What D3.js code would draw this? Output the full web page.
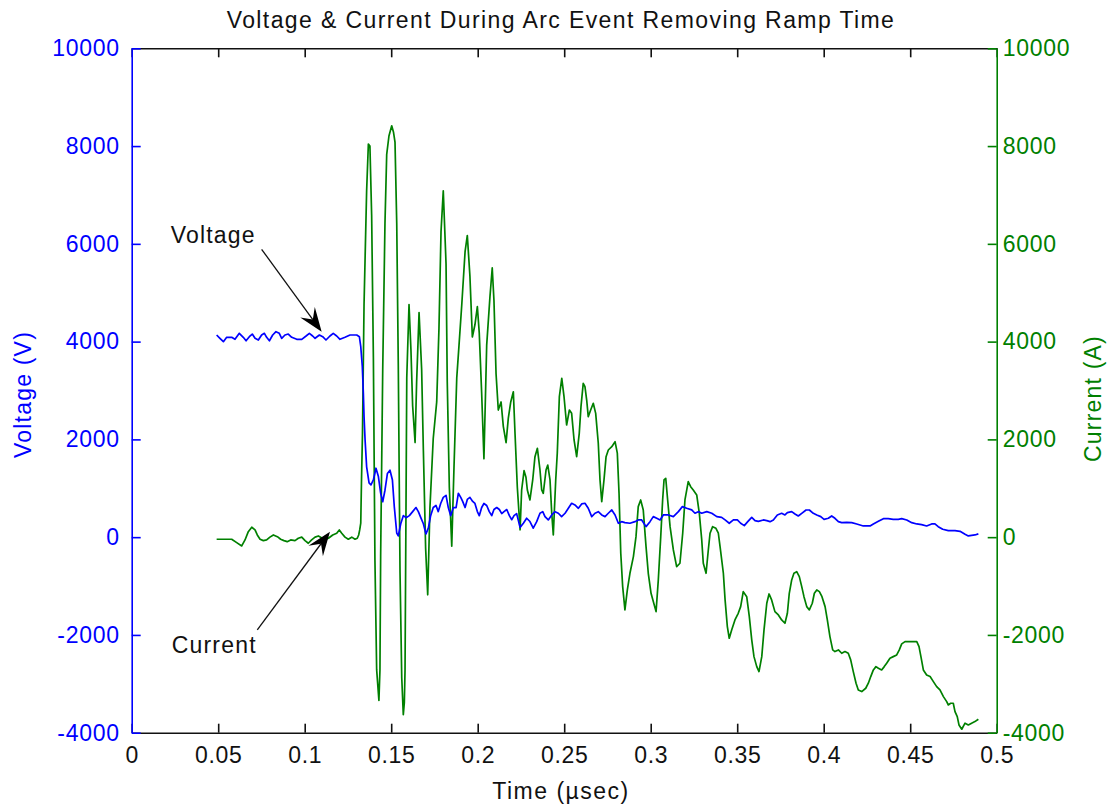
<!DOCTYPE html>
<html>
<head>
<meta charset="utf-8">
<script src="https://cdn.jsdelivr.net/npm/d3@7/dist/d3.min.js"></script>
<style>
  html, body { margin: 0; padding: 0; background: #fff; }
  svg { display: block; }
  text { font-family: "Liberation Sans", Arial, sans-serif; }
</style>
</head>
<body>
<svg id="chart" width="1113" height="808"></svg>
<script>
// Time axis (µsec) and tick labels
const timeTicks = [0, 0.05, 0.1, 0.15, 0.2, 0.25, 0.3, 0.35, 0.4, 0.45, 0.5];
const valueTicks = [-4000, -2000, 0, 2000, 4000, 6000, 8000, 10000];

// Voltage trace (V)
const voltageTime = [
  0.0491, 0.0510, 0.0530, 0.0549, 0.0578, 0.0597, 0.0622, 0.0645, 0.0661, 0.0680,
  0.0697, 0.0713, 0.0732, 0.0751, 0.0767, 0.0780, 0.0796, 0.0815, 0.0834, 0.0853,
  0.0867, 0.0886, 0.0905, 0.0925, 0.0954, 0.0983, 0.1008, 0.1027, 0.1046, 0.1060,
  0.1085, 0.1104, 0.1123, 0.1146, 0.1165, 0.1185, 0.1204, 0.1233, 0.1262, 0.1301,
  0.1316, 0.1324, 0.1333, 0.1339, 0.1343, 0.1349, 0.1358, 0.1372, 0.1383, 0.1397,
  0.1412, 0.1426, 0.1439, 0.1451, 0.1464, 0.1478, 0.1493, 0.1507, 0.1518, 0.1532,
  0.1541, 0.1555, 0.1570, 0.1586, 0.1605, 0.1624, 0.1643, 0.1657, 0.1671, 0.1686,
  0.1701, 0.1715, 0.1728, 0.1743, 0.1759, 0.1772, 0.1786, 0.1801, 0.1817, 0.1830,
  0.1844, 0.1859, 0.1875, 0.1888, 0.1902, 0.1913, 0.1927, 0.1940, 0.1955, 0.1971,
  0.1984, 0.1998, 0.2009, 0.2023, 0.2036, 0.2052, 0.2067, 0.2081, 0.2094, 0.2110,
  0.2125, 0.2139, 0.2152, 0.2168, 0.2183, 0.2197, 0.2210, 0.2225, 0.2245, 0.2264,
  0.2283, 0.2302, 0.2321, 0.2341, 0.2360, 0.2376, 0.2389, 0.2408, 0.2428, 0.2447,
  0.2466, 0.2485, 0.2505, 0.2524, 0.2543, 0.2562, 0.2582, 0.2601, 0.2620, 0.2639,
  0.2659, 0.2678, 0.2697, 0.2717, 0.2736, 0.2755, 0.2775, 0.2794, 0.2813, 0.2832,
  0.2851, 0.2880, 0.2909, 0.2928, 0.2948, 0.2973, 0.2996, 0.3015, 0.3035, 0.3054,
  0.3073, 0.3102, 0.3131, 0.3160, 0.3183, 0.3208, 0.3237, 0.3256, 0.3275, 0.3295,
  0.3324, 0.3353, 0.3382, 0.3410, 0.3430, 0.3454, 0.3478, 0.3501, 0.3520, 0.3541,
  0.3561, 0.3584, 0.3603, 0.3622, 0.3651, 0.3671, 0.3690, 0.3709, 0.3732, 0.3757,
  0.3776, 0.3790, 0.3815, 0.3834, 0.3853, 0.3873, 0.3898, 0.3917, 0.3940, 0.3960,
  0.3983, 0.4002, 0.4027, 0.4046, 0.4065, 0.4085, 0.4104, 0.4133, 0.4162, 0.4191,
  0.4229, 0.4268, 0.4287, 0.4316, 0.4345, 0.4373, 0.4402, 0.4431, 0.4451, 0.4480,
  0.4509, 0.4538, 0.4566, 0.4595, 0.4624, 0.4643, 0.4662, 0.4688, 0.4720, 0.4759,
  0.4788, 0.4817, 0.4836, 0.4855, 0.4874, 0.4894
];
const voltageValues = [
  4135, 4068, 3998, 4088, 4088, 4047, 4170, 4088, 4018, 4101,
  4155, 4068, 4033, 4135, 4170, 4088, 4018, 4135, 4203, 4170,
  4068, 4135, 4155, 4088, 4047, 4047, 4115, 4170, 4115, 4068,
  4135, 4101, 4033, 4115, 4170, 4115, 4047, 4088, 4135, 4135,
  4101, 3900, 3490, 2950, 2470, 1990, 1440, 1110, 1070, 1170,
  1410, 1240, 900, 725, 960, 1300, 1370, 1170, 620, 85,
  25, 274, 440, 399, 440, 523, 606, 523, 399, 274,
  66, 191, 440, 606, 648, 523, 689, 814, 855, 606,
  440, 606, 606, 897, 814, 731, 606, 772, 814, 731,
  689, 523, 440, 606, 689, 648, 523, 440, 565, 606,
  565, 482, 523, 565, 440, 357, 440, 482, 200, 284,
  387, 320, 184, 317, 489, 522, 420, 352, 454, 522,
  489, 420, 489, 591, 693, 659, 591, 680, 693, 591,
  420, 489, 522, 454, 420, 489, 557, 454, 284, 317,
  297, 284, 317, 352, 352, 215, 317, 420, 386, 352,
  454, 454, 420, 522, 624, 591, 557, 489, 522, 489,
  522, 489, 420, 406, 352, 284, 352, 352, 284, 236,
  317, 406, 338, 324, 352, 338, 317, 352, 454, 488,
  454, 502, 522, 474, 433, 488, 556, 556, 488, 454,
  420, 365, 386, 433, 386, 317, 297, 304, 297, 270,
  229, 229, 270, 324, 379, 379, 365, 365, 379, 352,
  297, 270, 256, 229, 270, 270, 215, 161, 134, 134,
  120, 59, 25, 38, 45, 66
];

// Current trace (A)
const currentTime = [
  0.0491, 0.0578, 0.0607, 0.0636, 0.0655, 0.0674, 0.0694, 0.0713, 0.0726, 0.0742,
  0.0761, 0.0780, 0.0799, 0.0819, 0.0842, 0.0861, 0.0880, 0.0899, 0.0919, 0.0944,
  0.0963, 0.0983, 0.1002, 0.1021, 0.1040, 0.1060, 0.1079, 0.1092, 0.1112, 0.1137,
  0.1162, 0.1185, 0.1200, 0.1214, 0.1233, 0.1252, 0.1272, 0.1291, 0.1304, 0.1312,
  0.1318, 0.1324, 0.1328, 0.1334, 0.1343, 0.1358, 0.1368, 0.1377, 0.1387, 0.1397,
  0.1406, 0.1416, 0.1429, 0.1435, 0.1439, 0.1451, 0.1464, 0.1474, 0.1487, 0.1503,
  0.1513, 0.1522, 0.1532, 0.1541, 0.1551, 0.1561, 0.1570, 0.1576, 0.1580, 0.1590,
  0.1603, 0.1614, 0.1624, 0.1638, 0.1647, 0.1661, 0.1676, 0.1686, 0.1699, 0.1711,
  0.1724, 0.1743, 0.1763, 0.1776, 0.1788, 0.1801, 0.1817, 0.1824, 0.1836, 0.1850,
  0.1863, 0.1879, 0.1892, 0.1908, 0.1927, 0.1940, 0.1955, 0.1969, 0.1984, 0.1998,
  0.2009, 0.2023, 0.2036, 0.2052, 0.2071, 0.2084, 0.2094, 0.2106, 0.2119, 0.2135,
  0.2148, 0.2164, 0.2177, 0.2191, 0.2206, 0.2216, 0.2229, 0.2245, 0.2254, 0.2268,
  0.2279, 0.2287, 0.2302, 0.2318, 0.2331, 0.2345, 0.2360, 0.2370, 0.2379, 0.2395,
  0.2405, 0.2418, 0.2428, 0.2437, 0.2451, 0.2460, 0.2472, 0.2486, 0.2499, 0.2514,
  0.2530, 0.2543, 0.2557, 0.2572, 0.2587, 0.2597, 0.2610, 0.2620, 0.2630, 0.2639,
  0.2653, 0.2668, 0.2682, 0.2697, 0.2707, 0.2717, 0.2730, 0.2742, 0.2755, 0.2775,
  0.2794, 0.2807, 0.2817, 0.2827, 0.2838, 0.2851, 0.2865, 0.2880, 0.2900, 0.2915,
  0.2928, 0.2942, 0.2957, 0.2973, 0.2986, 0.3002, 0.3031, 0.3044, 0.3058, 0.3069,
  0.3077, 0.3087, 0.3098, 0.3112, 0.3131, 0.3150, 0.3169, 0.3185, 0.3198, 0.3217,
  0.3231, 0.3246, 0.3266, 0.3281, 0.3295, 0.3304, 0.3320, 0.3333, 0.3343, 0.3358,
  0.3377, 0.3391, 0.3401, 0.3420, 0.3430, 0.3443, 0.3454, 0.3468, 0.3487, 0.3506,
  0.3520, 0.3535, 0.3555, 0.3570, 0.3584, 0.3597, 0.3613, 0.3626, 0.3642, 0.3655,
  0.3671, 0.3684, 0.3699, 0.3718, 0.3738, 0.3757, 0.3776, 0.3790, 0.3801, 0.3815,
  0.3828, 0.3844, 0.3859, 0.3873, 0.3886, 0.3902, 0.3917, 0.3934, 0.3946, 0.3960,
  0.3975, 0.3990, 0.4008, 0.4021, 0.4036, 0.4052, 0.4065, 0.4085, 0.4104, 0.4123,
  0.4142, 0.4156, 0.4171, 0.4187, 0.4200, 0.4220, 0.4243, 0.4258, 0.4272, 0.4287,
  0.4302, 0.4316, 0.4335, 0.4350, 0.4364, 0.4383, 0.4402, 0.4422, 0.4437, 0.4451,
  0.4470, 0.4509, 0.4538, 0.4551, 0.4562, 0.4576, 0.4595, 0.4615, 0.4634, 0.4653,
  0.4672, 0.4692, 0.4711, 0.4720, 0.4734, 0.4749, 0.4759, 0.4772, 0.4782, 0.4798,
  0.4817, 0.4836, 0.4855, 0.4874, 0.4894
];
const currentValues = [
  -43, -43, -112, -180, -57, 112, 203, 148, 45, -43,
  -71, -57, 0, 45, 10, -43, -71, -92, -57, -71,
  -23, 0, -71, -125, -57, 0, 25, 0, -57, -23,
  45, 80, 148, 80, 0, -43, 0, -43, -23, 45,
  148, 285, 1100, 2120, 4759, 7085, 8040, 8000, 6586, 3679,
  -473, -2716, -3339, -2716, -390, 3430, 6420, 7832, 8206, 8414,
  8289, 8081, 6420, 3513, -723, -2882, -3630, -3380, -2716, 3264,
  4759, 3845, 2683, 1935, 3181, 4593, 3430, 1769, -224, -1179,
  606, 2018, 2766, 4261, 6254, 7085, 5590, 3181, 1022, -183,
  1437, 3264, 3929, 4759, 5839, 6171, 5341, 4095, 4344, 4718,
  4178, 2932, 1603, 3929, 4925, 5507, 4842, 3347, 2600, 2766,
  2267, 1935, 2434, 2766, 2973, 2101, 1022, 150, 965, 1360,
  1225, 965, 761, 1170, 1646, 1818, 1374, 965, 897, 1374,
  1476, 1170, 489, 45, 1170, 1719, 2873, 3249, 2873, 2294,
  2601, 2533, 1988, 1646, 2124, 2669, 3147, 3078, 2805, 2464,
  2601, 2738, 2533, 1920, 1170, 726, 1170, 1646, 1783, 1851,
  1953, 1719, 897, -330, -1012, -1489, -1080, -739, -398, 10,
  624, 761, 556, -194, -739, -1148, -1523, -875, 10, 761,
  1170, 1204, 761, 215, -262, -603, -534, 80, 761, 1135,
  1033, 965, 863, 489, -57, -534, -739, -262, 80, 215,
  182, 80, -194, -738, -1284, -1830, -2068, -1898, -1693, -1557,
  -1421, -1114, -1217, -1625, -2102, -2444, -2648, -2750, -2444, -1898,
  -1352, -1162, -1284, -1523, -1591, -1693, -1761, -1557, -1148, -875,
  -738, -706, -808, -1012, -1217, -1421, -1489, -1352, -1148, -1080,
  -1114, -1217, -1421, -1693, -2034, -2307, -2341, -2307, -2375, -2341,
  -2375, -2511, -2750, -2988, -3125, -3159, -3091, -2988, -2852, -2716,
  -2648, -2682, -2716, -2648, -2579, -2477, -2444, -2409, -2307, -2184,
  -2137, -2137, -2137, -2239, -2444, -2716, -2818, -2852, -2955, -3057,
  -3125, -3262, -3364, -3432, -3398, -3398, -3569, -3671, -3841, -3929,
  -3806, -3841, -3806, -3773, -3724
];

// Annotation arrows (data coordinates: time, value)
const voltageNote = { label: "Voltage", text: [0.0225, 6180], from: [0.0751, 5888], to: [0.1098, 4203] };
const currentNote = { label: "Current", text: [0.0231, -2205], from: [0.0726, -1898], to: [0.1146, 112] };

(function drawChart() {
  const BLUE = "#0000ff";
  const GREEN = "#008000";
  const INK = "#111";
  const FONT = 23;

  const svg = d3.select("#chart");
  const plotLeft = 131.7, plotRight = 996.7, plotTop = 48.3, plotBottom = 732.7;

  const x = d3.scaleLinear().domain([0, 0.5]).range([plotLeft, plotRight]);
  const yV = d3.scaleLinear().domain([-4000, 10000]).range([plotBottom, plotTop]);
  const yI = d3.scaleLinear().domain([-4000, 10000]).range([plotBottom, plotTop]);

  const tickLen = 9;
  const plainNumber = d => String(d); // hyphen-minus, as in the original axis labels

  function styleAxis(g, color) {
    g.select(".domain").attr("stroke", color).attr("stroke-width", 1.6);
    g.selectAll(".tick line").attr("stroke", color).attr("stroke-width", 1.6);
    g.selectAll(".tick text")
      .attr("fill", color)
      .style("font-size", FONT + "px")
      .style("font-family", '"Liberation Sans", Arial, sans-serif')
      .style("letter-spacing", "0.7px");
  }

  // Bottom x axis
  const xAxis = d3.axisBottom(x).tickValues(timeTicks).tickSize(-tickLen).tickSizeOuter(0)
    .tickPadding(14).tickFormat(d => String(+d.toFixed(2)));
  svg.append("g").attr("transform", `translate(0,${plotBottom})`).call(xAxis).call(g => styleAxis(g, INK));

  // Top x axis (ticks only)
  const xTop = d3.axisTop(x).tickValues(timeTicks).tickSize(-tickLen).tickSizeOuter(0).tickFormat("");
  svg.append("g").attr("transform", `translate(0,${plotTop})`).call(xTop).call(g => styleAxis(g, INK));

  // Left voltage axis
  const yLeft = d3.axisLeft(yV).tickValues(valueTicks).tickSize(-tickLen).tickSizeOuter(0).tickPadding(12)
    .tickFormat(plainNumber);
  svg.append("g").attr("transform", `translate(${plotLeft},0)`).call(yLeft).call(g => styleAxis(g, BLUE));

  // Right current axis
  const yRight = d3.axisRight(yI).tickValues(valueTicks).tickSize(-tickLen).tickSizeOuter(0).tickPadding(6)
    .tickFormat(plainNumber);
  svg.append("g").attr("transform", `translate(${plotRight},0)`).call(yRight).call(g => styleAxis(g, GREEN));

  // Traces
  const voltage = voltageTime.map((t, i) => [t, voltageValues[i]]);
  const current = currentTime.map((t, i) => [t, currentValues[i]]);

  svg.append("path")
    .datum(current)
    .attr("fill", "none")
    .attr("stroke", GREEN)
    .attr("stroke-width", 1.7)
    .attr("stroke-linejoin", "round")
    .attr("d", d3.line().x(d => x(d[0])).y(d => yI(d[1])));

  svg.append("path")
    .datum(voltage)
    .attr("fill", "none")
    .attr("stroke", BLUE)
    .attr("stroke-width", 1.7)
    .attr("stroke-linejoin", "round")
    .attr("d", d3.line().x(d => x(d[0])).y(d => yV(d[1])));

  // Title and axis labels
  svg.append("text")
    .attr("x", 561).attr("y", 28)
    .attr("text-anchor", "middle").attr("fill", INK)
    .style("font-size", FONT + "px").style("letter-spacing", "1.4px")
    .text("Voltage & Current During Arc Event Removing Ramp Time");

  svg.append("text")
    .attr("x", 561).attr("y", 799)
    .attr("text-anchor", "middle").attr("fill", INK)
    .style("font-size", FONT + "px").style("letter-spacing", "1.5px")
    .text("Time (\u00b5sec)");

  svg.append("text")
    .attr("transform", `translate(31,${(plotTop + plotBottom) / 2 + 4}) rotate(-90)`)
    .attr("text-anchor", "middle").attr("fill", BLUE)
    .style("font-size", FONT + "px").style("letter-spacing", "1.2px")
    .text("Voltage (V)");

  svg.append("text")
    .attr("transform", `translate(1101,${(plotTop + plotBottom) / 2 + 8}) rotate(-90)`)
    .attr("text-anchor", "middle").attr("fill", GREEN)
    .style("font-size", FONT + "px").style("letter-spacing", "1.2px")
    .text("Current (A)");

  // Annotation labels and arrows
  function arrow(note) {
    const [x0, y0] = [x(note.from[0]), yV(note.from[1])];
    const [x1, y1] = [x(note.to[0]), yV(note.to[1])];
    const ang = Math.atan2(y1 - y0, x1 - x0);
    const len = 24, half = 9, notch = 15;
    const ux = Math.cos(ang), uy = Math.sin(ang);
    const px = -uy, py = ux;
    const bx = x1 - ux * len, by = y1 - uy * len;
    const nx = x1 - ux * notch, ny = y1 - uy * notch;
    svg.append("line")
      .attr("x1", x0).attr("y1", y0).attr("x2", nx).attr("y2", ny)
      .attr("stroke", INK).attr("stroke-width", 1.3);
    svg.append("path")
      .attr("d", `M${x1},${y1}L${bx + px * half},${by + py * half}L${nx},${ny}L${bx - px * half},${by - py * half}Z`)
      .attr("fill", "#000");
    svg.append("text")
      .attr("x", x(note.text[0])).attr("y", yV(note.text[1]) + 8)
      .attr("fill", INK)
      .style("font-size", FONT + "px").style("letter-spacing", "1.2px")
      .text(note.label);
  }
  arrow(voltageNote);
  arrow(currentNote);
})();
</script>
</body>
</html>
